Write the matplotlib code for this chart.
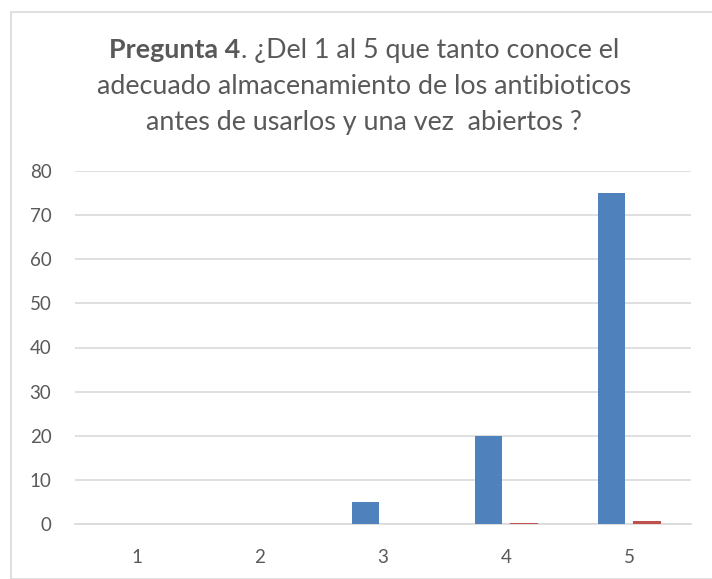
import numpy as np
import matplotlib
matplotlib.use("Agg")
import matplotlib.pyplot as plt
from matplotlib.patches import Rectangle

# data
categories = ['1', '2', '3', '4', '5']
serie1 = [0, 0, 5, 20, 75]            # blue bars
serie2 = [0, 0, 0.05, 0.2, 0.75]      # red bars (tiny)
yticks = [0, 10, 20, 30, 40, 50, 60, 70, 80]

title_bold = 'Pregunta 4'
title_rest = '. ¿Del 1 al 5 que tanto conoce el'
title_line2 = 'adecuado almacenamiento de los antibioticos'
title_line3 = 'antes de usarlos y una vez  abiertos ?'

plt.rcParams['font.family'] = ['Lato', 'DejaVu Sans']
txt_color = '#595959'
grid_color = '#d9d9d9'

W, H = 712, 579
fig = plt.figure(figsize=(W / 100, H / 100), dpi=100)
ax = fig.add_axes([75 / W, 1 - 524 / H, (691 - 75) / W, (524 - 171) / H])

x = np.arange(len(categories))
bw = 0.223
off = 0.144
ax.bar(x - off, serie1, bw, color='#4F81BD', zorder=3)
ax.bar(x + off, serie2, bw, color='#C0504D', zorder=3)

ax.set_xlim(-0.5, len(categories) - 0.5)
ax.set_ylim(0, 80)
ax.set_yticks(yticks)
ax.set_xticks(x)
ax.set_xticklabels(categories)
ax.yaxis.grid(True, color=grid_color, linewidth=1.2, zorder=0)
ax.set_axisbelow(True)
for s in ['top', 'right', 'left']:
    ax.spines[s].set_visible(False)
ax.spines['bottom'].set_color(grid_color)
ax.spines['bottom'].set_linewidth(1.2)
ax.tick_params(axis='both', length=0, labelsize=13.5, colors=txt_color)
ax.tick_params(axis='y', pad=17)
ax.tick_params(axis='x', pad=18)

# chart border
fig.patches.append(Rectangle((11 / W, 0), 1, 1 - 12 / H, transform=fig.transFigure,
                             fill=False, edgecolor=grid_color, linewidth=1.2))

# title, first line has a bold part
fs = 19.4
cx = 364 / W
renderer = fig.canvas.get_renderer()
y1 = 1 - 58 / H
t1 = fig.text(0, y1, title_bold, fontsize=fs, fontweight='bold', color=txt_color, va='baseline')
t2 = fig.text(0, y1, title_rest, fontsize=fs, color=txt_color, va='baseline')
w1 = t1.get_window_extent(renderer).width / W
w2 = t2.get_window_extent(renderer).width / W
x0 = cx - (w1 + w2) / 2
t1.set_x(x0)
t2.set_x(x0 + w1)
fig.text(cx, 1 - 94 / H, title_line2, fontsize=fs, color=txt_color, ha='center', va='baseline')
fig.text(cx, 1 - 130 / H, title_line3, fontsize=fs, color=txt_color, ha='center', va='baseline')

fig.savefig('out.png', dpi=100)
